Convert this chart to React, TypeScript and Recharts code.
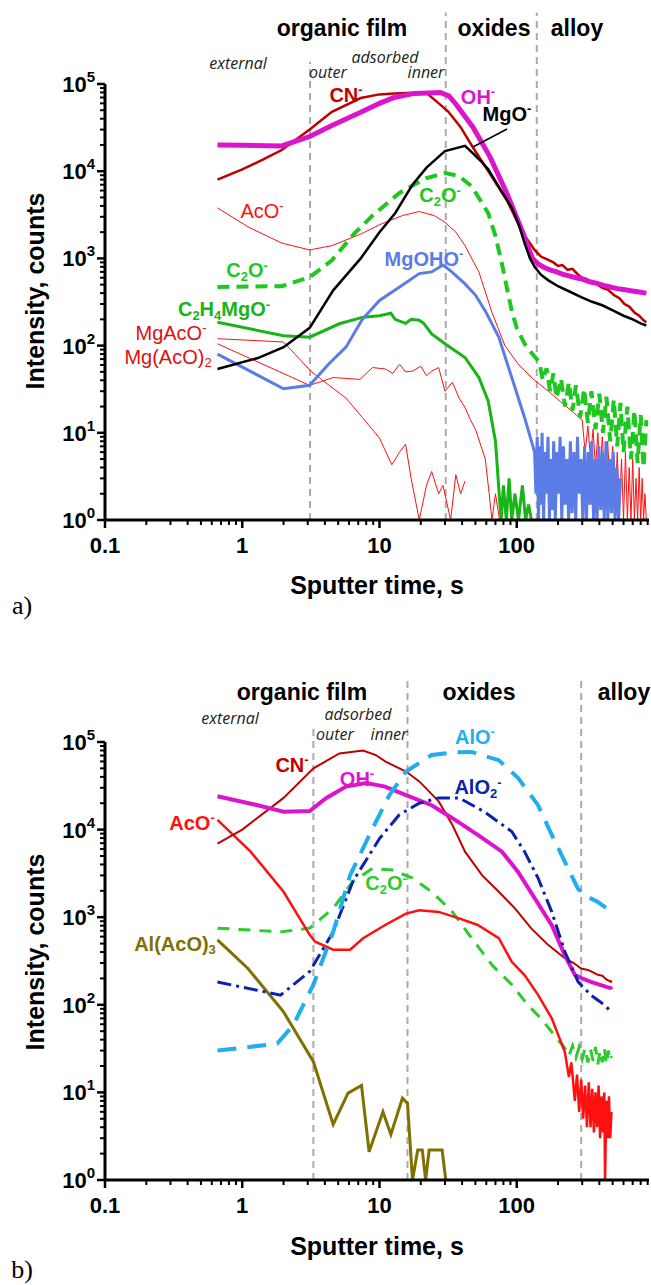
import React from 'react';
import { LineChart, Line, XAxis, YAxis, ReferenceLine } from 'recharts';

type Pt = [number, number];

// ---- panel a: sputter time (s) vs intensity (counts) ----
const cnA: Pt[] = [
  [0.66, 8000], [1, 10500], [1.4, 13500], [1.94, 17500], [3.1, 30000], [4.5, 48000], [7.3, 69000], [10, 76000],
  [12.8, 78000], [19.5, 80000], [22.4, 77000], [27.7, 58000], [31.8, 48000], [39, 32000], [48, 18700], [64, 9300],
  [85, 4600], [112, 1900], [135, 1250], [150, 1050], [170, 960], [185, 900], [200, 820], [215, 840], [235, 740],
  [255, 760], [280, 650], [300, 600], [325, 580], [350, 520], [380, 510], [420, 460], [460, 440], [510, 380],
  [560, 350], [610, 300], [660, 280], [720, 240], [780, 220], [840, 195], [880, 185],
];
const ohA: Pt[] = [
  [0.66, 20000], [1, 19800], [1.94, 19500], [3.1, 25000], [4.5, 33500], [7.3, 47500], [10, 60000], [12.8, 70000],
  [18, 78000], [27.7, 80000], [32, 73000], [36, 59000], [48, 32000], [64, 14500], [85, 5500], [112, 1900],
  [130, 1000], [145, 850], [160, 780], [175, 740], [195, 700], [215, 660], [240, 630], [270, 600], [300, 580],
  [340, 540], [380, 520], [430, 490], [480, 470], [540, 450], [600, 440], [680, 425], [760, 415], [880, 400],
];
const mgoA: Pt[] = [
  [0.66, 54], [1.3, 72], [2, 96], [3.1, 160], [4.6, 430], [7.3, 1000], [10, 2000], [13, 3300], [17.4, 7000],
  [22, 11000], [30, 17000], [42, 19500], [48, 16000], [55, 13000], [62, 10500], [77, 6000], [92, 3800],
  [104, 2400], [114, 1500], [125, 1000], [135, 800], [150, 650], [170, 560], [200, 480], [240, 420], [295, 360],
  [350, 320], [420, 290], [510, 250], [600, 220], [700, 200], [800, 180], [880, 170],
];
const acoA: Pt[] = [
  [0.66, 3800], [1.1, 2300], [1.94, 1500], [3.1, 1250], [4.5, 1400], [7.3, 1900], [10.4, 2500], [14.7, 3100],
  [19.5, 3450], [25, 3100], [30, 2600], [36, 2000], [42, 1400], [53, 700], [66, 240], [82, 100], [102, 62],
  [130, 42], [170, 30], [200, 24], [230, 20], [260, 17], [300, 14], [315, 6], [330, 12], [345, 5], [360, 11],
  [375, 4], [390, 10], [405, 3], [420, 9], [440, 2.5], [460, 8], [480, 2], [500, 7], [520, 1.5], [540, 6],
  [560, 1.2], [580, 5], [600, 1], [620, 6], [640, 1], [660, 4], [680, 1], [700, 5], [720, 1], [740, 3], [760, 1],
  [780, 4], [800, 1], [820, 3], [840, 1], [860, 2], [880, 1],
];
const c2oA: Pt[] = [
  [0.66, 470], [1.94, 480], [3.1, 610], [4.5, 950], [6.5, 1900], [8.9, 3100], [13.9, 5600], [21.7, 8300],
  [30, 9500], [38, 8800], [47, 6700], [62, 3300], [70, 1800], [78, 870], [85, 450], [92, 250], [100, 160],
  [114, 105], [130, 80], [146, 65], [155, 40], [165, 55], [175, 30], [185, 48], [195, 25], [210, 42], [225, 20],
  [240, 38], [255, 18], [270, 35], [290, 15], [310, 32], [330, 13], [350, 30], [375, 11], [400, 28], [425, 10],
  [450, 26], [480, 8], [510, 24], [540, 7], [570, 22], [600, 6], [640, 20], [680, 5], [720, 18], [760, 4.5],
  [800, 16], [840, 4], [880, 14],
];
const c2h4mgoA: Pt[] = [
  [0.66, 185], [2, 130], [3.1, 125], [5.1, 178], [7.6, 212], [10, 220], [12.1, 235], [13, 200], [15.5, 180],
  [17, 200], [19.5, 195], [21, 180], [24, 136], [30, 105], [42, 73], [53, 43], [62, 23], [70, 8], [74, 2.3],
  [77, 1], [80, 2.5], [84, 1], [88, 3], [92, 1], [97, 2], [103, 1], [110, 2.5], [116, 1], [122, 1.5], [128, 1],
];
const mgohoA: Pt[] = [
  [0.66, 80], [2, 32], [3.1, 35], [4.2, 60], [5.7, 96], [7.5, 200], [10, 330], [14, 470], [19.5, 670], [24, 700],
  [29, 840], [33, 720], [42, 510], [50, 380], [59, 250], [74, 125], [92, 43], [114, 15], [135, 6], [138, 2],
  [141, 9], [144, 1], [147, 7], [150, 1.5], [153, 10], [157, 1], [161, 6], [165, 2], [169, 9], [173, 1], [177, 5],
  [181, 1.3], [186, 8], [191, 1], [196, 6], [201, 2], [207, 9], [213, 1], [219, 7], [225, 1.5], [232, 5], [239, 1],
  [246, 8], [253, 1.2], [261, 6], [269, 1], [277, 9], [285, 2], [294, 5], [303, 1], [312, 7], [322, 1], [332, 6],
  [342, 1.5], [352, 8], [363, 1], [374, 5], [385, 1], [397, 7], [409, 1.3], [421, 6], [434, 1], [447, 8], [461, 1],
  [475, 5], [490, 1.2], [505, 6], [520, 1], [536, 4], [552, 1], [570, 3],
];
const mgacoA: Pt[] = [
  [0.66, 120], [2, 110], [3.2, 50], [4.3, 35], [5.7, 25], [7.5, 15], [10, 8.7], [12.3, 4.3], [14, 6], [15.5, 7.4],
  [17, 3], [19.5, 1], [22, 2.5], [24, 3.6], [27, 2], [29, 2.5], [33, 1], [36, 3.3], [39, 2], [42, 2.8],
];
const mgaco2A: Pt[] = [
  [0.66, 105], [3.1, 35], [4.6, 43], [7.2, 41], [8.9, 56], [11, 54], [12.5, 48], [14, 61], [15.5, 50], [17.4, 51],
  [20, 58], [22, 45], [24, 51], [27, 56], [30, 30], [34, 38], [38, 25], [42, 19.5], [46, 14], [50, 11], [55, 7],
  [59, 5], [63, 2], [66, 1], [70, 2], [75, 1],
];
const bordersA = [3.12, 30.4, 140];

// ---- panel b ----
const cnB: Pt[] = [
  [0.66, 6900], [1, 10000], [2, 23000], [3.3, 50000], [5.1, 74000], [7.6, 80000], [9.4, 71000], [11, 60000],
  [15.6, 46000], [19.5, 35500], [27, 21000], [34, 11300], [42, 5600], [56, 3000], [74, 1950], [97, 1260],
  [128, 740], [170, 480], [224, 340], [260, 300], [295, 260], [330, 250], [360, 235], [390, 220], [420, 215],
  [450, 195], [485, 183], [490, 190],
];
const ohB: Pt[] = [
  [0.66, 24000], [1.2, 19500], [2, 16000], [3.1, 16300], [4.1, 23000], [5.7, 31000], [8, 34000], [11, 31000],
  [15.6, 24700], [24, 19000], [34, 13500], [52, 8700], [78, 5600], [102, 3300], [135, 1650], [180, 810],
  [224, 370], [265, 220], [300, 200], [347, 183], [400, 170], [450, 160], [485, 155], [490, 150],
];
const aloB: Pt[] = [
  [0.66, 30], [1.8, 36], [2.36, 59], [3.3, 170], [4.6, 680], [6.1, 3000], [8.9, 10300], [11.8, 24700],
  [15.6, 46000], [24, 71000], [35, 76000], [47, 77000], [74, 62000], [102, 39000], [143, 19000], [180, 8700],
  [224, 4300], [280, 2100], [330, 1700], [388, 1500], [440, 1300], [485, 1170],
];
const alo2B: Pt[] = [
  [0.66, 182], [1.9, 129], [3.1, 240], [4.6, 680], [6.4, 2560], [10, 7900], [13.9, 14700], [19.5, 20000],
  [27, 23000], [38, 23000], [58, 16000], [92, 9500], [114, 5600], [143, 2800], [180, 1150], [224, 405],
  [280, 183], [347, 129], [400, 110], [450, 95], [485, 83],
];
const acoB: Pt[] = [
  [0.66, 12900], [1.15, 5600], [2, 1950], [3.1, 630], [3.4, 525], [4.6, 425], [6.1, 425], [7.6, 575], [11, 815],
  [15.6, 1100], [19.5, 1200], [27, 1150], [38, 970], [52, 815], [74, 575], [92, 310], [114, 218], [143, 130],
  [180, 70], [224, 29], [240, 15], [250, 22], [265, 8], [275, 16], [285, 6], [295, 14], [305, 5], [315, 12],
  [325, 4], [335, 13], [345, 4], [355, 11], [365, 3.5], [375, 10], [385, 4], [395, 12], [405, 3], [415, 9],
  [425, 3.5], [435, 10], [440, 1], [450, 8], [460, 3], [470, 9], [480, 3], [490, 6],
];
const c2oB: Pt[] = [
  [0.66, 750], [1.9, 680], [3.1, 750], [4.6, 1260], [6.4, 2560], [8.9, 3600], [12.4, 3450], [17.4, 2800],
  [24, 1950], [34, 1150], [47, 575], [66, 285], [92, 170], [120, 100], [150, 70], [188, 45], [224, 32], [240, 26],
  [255, 34], [270, 25], [285, 33], [300, 24], [315, 32], [330, 22], [345, 31], [360, 23], [375, 33], [390, 21],
  [405, 30], [420, 22], [435, 32], [450, 21], [465, 30], [480, 23], [490, 26],
];
const alacoB: Pt[] = [
  [0.66, 550], [1.1, 260], [2, 83], [3.3, 22.4], [4.6, 4.3], [5.9, 9.8], [7.4, 12], [8.4, 2.1], [10.6, 6],
  [12.1, 3.3], [14.7, 8.6], [16, 7.5], [17.4, 1], [19, 2.2], [20.5, 2.2], [21.7, 1], [23, 2.2], [28.6, 2.2],
  [30.4, 1],
];
const bordersB = [3.3, 16, 295];

// ---- axes ----
const xMajor = [0.1, 1, 10, 100];
const xTicks = [0.1, 0.2, 0.3, 0.4, 0.5, 0.6, 0.7, 0.8, 0.9, 1, 2, 3, 4, 5, 6, 7, 8, 9, 10, 20, 30, 40, 50, 60, 70, 80, 90,
  100, 200, 300, 400, 500, 600, 700, 800, 900];
const yTicks = [1, 2, 3, 4, 5, 6, 7, 8, 9, 10, 20, 30, 40, 50, 60, 70, 80, 90, 100, 200, 300, 400, 500, 600, 700, 800, 900,
  1000, 2000, 3000, 4000, 5000, 6000, 7000, 8000, 9000, 10000, 20000, 30000, 40000, 50000, 60000, 70000, 80000, 90000,
  100000];

const FONT = '"Liberation Sans", Arial, sans-serif';

const rows = (pts: Pt[]) => pts.map(([t, v]) => ({ t, v }));

const XTick = (props: any) => {
  const { x, y, payload } = props;
  const major = xMajor.includes(payload.value);
  return (
    <g>
      <line x1={x} y1={y} x2={x} y2={y + (major ? 8 : 5)} stroke="#000" strokeWidth={major ? 2.5 : 2} />
      {major && (
        <text x={x} y={y + 33} textAnchor="middle" fontSize={22} fontWeight="bold" fontFamily={FONT} fill="#000">
          {payload.value}
        </text>
      )}
    </g>
  );
};

const YTick = (props: any) => {
  const { x, y, payload } = props;
  const lg = Math.log10(payload.value);
  const exp = Math.round(lg);
  const major = Math.abs(lg - exp) < 1e-6;
  return (
    <g>
      <line x1={x} y1={y} x2={x - (major ? 8 : 5)} y2={y} stroke="#000" strokeWidth={major ? 2.5 : 2} />
      {major && (
        <text x={x - 10} y={y + 8} textAnchor="end" fontSize={22} fontWeight="bold" fontFamily={FONT} fill="#000">
          10<tspan dy={-10} fontSize={15}>{exp}</tspan>
        </text>
      )}
    </g>
  );
};

interface SeriesDef {
  pts: Pt[];
  color: string;
  width: number;
  dash?: string;
}

interface PanelProps {
  height: number;
  margin: { top: number; right: number; bottom: number; left: number };
  series: SeriesDef[];
  borders: number[];
  borderTops: number[];
}

function Panel({ height, margin, series, borders, borderTops }: PanelProps) {
  return (
    <LineChart width={651} height={height} margin={margin}>
      <XAxis
        dataKey="t"
        type="number"
        scale="log"
        domain={[0.1, 920]}
        allowDataOverflow
        ticks={xTicks}
        interval={0}
        tickSize={0}
        tickMargin={0}
        tick={<XTick />}
        axisLine={{ stroke: '#000', strokeWidth: 3 }}
        height={30}
      />
      <YAxis
        dataKey="v"
        type="number"
        scale="log"
        domain={[1, 100000]}
        allowDataOverflow
        ticks={yTicks}
        interval={0}
        tickSize={0}
        tickMargin={0}
        tick={<YTick />}
        axisLine={{ stroke: '#000', strokeWidth: 3 }}
        width={60}
      />
      {borders.map((b, i) => (
        <ReferenceLine
          key={b}
          ifOverflow="visible"
          segment={[{ x: b, y: 1 }, { x: b, y: borderTops[i] }]}
          stroke="#ababab"
          strokeWidth={2}
          strokeDasharray="7 5"
        />
      ))}
      {series.map((s, i) => (
        <Line
          key={i}
          data={rows(s.pts)}
          dataKey="v"
          type="linear"
          stroke={s.color}
          strokeWidth={s.width}
          strokeDasharray={s.dash}
          dot={false}
          activeDot={false}
          isAnimationActive={false}
        />
      ))}
    </LineChart>
  );
}

const Tag = ({ x, y, color = '#000', size = 20, bold = true, italic = false, family = FONT, rotate = false, children }: any) => (
  <div
    style={{
      position: 'absolute',
      left: x,
      top: y,
      transform: `translate(-50%, -50%)${rotate ? ' rotate(-90deg)' : ''}`,
      color,
      fontSize: size,
      fontWeight: bold ? 'bold' : 'normal',
      fontStyle: italic ? 'italic' : 'normal',
      fontFamily: family,
      whiteSpace: 'nowrap',
      lineHeight: 1,
    }}
  >
    {children}
  </div>
);

const Sup = ({ children }: any) => <sup style={{ fontSize: '0.65em', verticalAlign: '0.6em' }}>{children}</sup>;
const Sub = ({ children }: any) => <sub style={{ fontSize: '0.65em', verticalAlign: '-0.3em' }}>{children}</sub>;

const IT = '"Open Sans", sans-serif';

export default function App() {
  const seriesA: SeriesDef[] = [
    { pts: acoA, color: '#ff1010', width: 1 },
    { pts: mgacoA, color: '#ff1010', width: 1 },
    { pts: mgaco2A, color: '#ff1010', width: 1 },
    { pts: c2h4mgoA, color: '#18b418', width: 3 },
    { pts: mgohoA, color: '#5b7be6', width: 3 },
    { pts: c2oA, color: '#1ec81e', width: 4, dash: '12 7' },
    { pts: cnA, color: '#c00000', width: 2.5 },
    { pts: ohA, color: '#dc14cc', width: 5 },
    { pts: mgoA, color: '#000000', width: 2.5 },
  ];
  const seriesB: SeriesDef[] = [
    { pts: alacoB, color: '#807000', width: 3 },
    { pts: c2oB, color: '#2ccc2c', width: 3, dash: '12 9' },
    { pts: acoB, color: '#ff1010', width: 2.5 },
    { pts: cnB, color: '#c00000', width: 2 },
    { pts: ohB, color: '#dc14cc', width: 4 },
    { pts: alo2B, color: '#0c22aa', width: 3, dash: '14 5 3 5' },
    { pts: aloB, color: '#22aeee', width: 4, dash: '19 11' },
  ];

  return (
    <div style={{ position: 'absolute', left: 0, top: 0, width: 651, height: 1285, background: '#fff', overflow: 'hidden' }}>
      <div style={{ position: 'absolute', left: 0, top: 0 }}>
        <Panel
          height={640}
          margin={{ top: 84, right: 2, bottom: 90, left: 45 }}
          series={seriesA}
          borders={bordersA}
          borderTops={[180000, 660000, 660000]}
        />
      </div>
      <div style={{ position: 'absolute', left: 0, top: 640 }}>
        <Panel
          height={645}
          margin={{ top: 102, right: 2, bottom: 75, left: 45 }}
          series={seriesB}
          borders={bordersB}
          borderTops={[157000, 540000, 540000]}
        />
      </div>

      {/* panel a annotations */}
      <Tag x={342} y={28} size={23}>organic film</Tag>
      <Tag x={494} y={28} size={23}>oxides</Tag>
      <Tag x={577} y={28} size={23}>alloy</Tag>
      <Tag x={238} y={63} size={16} bold={false} italic family={IT} color="#222">external</Tag>
      <Tag x={385} y={57} size={16} bold={false} italic family={IT} color="#222">adsorbed</Tag>
      <Tag x={328} y={72} size={16} bold={false} italic family={IT} color="#222">outer</Tag>
      <Tag x={426} y={72} size={16} bold={false} italic family={IT} color="#222">inner</Tag>
      <Tag x={346} y={94} color="#c00000">CN<Sup>-</Sup></Tag>
      <Tag x={478} y={96} color="#dc14cc">OH<Sup>-</Sup></Tag>
      <Tag x={507} y={113} color="#000">MgO<Sup>-</Sup></Tag>
      <Tag x={262} y={210} color="#ff1010" bold={false}>AcO<Sup>-</Sup></Tag>
      <Tag x={440} y={196} color="#1ec81e">C<Sub>2</Sub>O<Sup>-</Sup></Tag>
      <Tag x={424} y={258} color="#5b7be6">MgOHO<Sup>-</Sup></Tag>
      <Tag x={247} y={271} color="#1ec81e">C<Sub>2</Sub>O<Sup>-</Sup></Tag>
      <Tag x={224} y={310} color="#18b418">C<Sub>2</Sub>H<Sub>4</Sub>MgO<Sup>-</Sup></Tag>
      <Tag x={171} y={332} color="#e01010" bold={false}>MgAcO<Sup>-</Sup></Tag>
      <Tag x={168} y={358} color="#e01010" bold={false}>Mg(AcO)<Sub>2</Sub></Tag>
      <Tag x={35} y={291} size={25} rotate>Intensity, counts</Tag>
      <Tag x={377} y={585} size={25}>Sputter time, s</Tag>
      <Tag x={22} y={606} size={26} bold={false} family="'Liberation Serif', serif">a)</Tag>
      <svg style={{ position: 'absolute', left: 0, top: 0 }} width={651} height={200}>
        <line x1={507} y1={129} x2={473} y2={147} stroke="#000" strokeWidth={1.5} />
      </svg>

      {/* panel b annotations */}
      <Tag x={302} y={692} size={23}>organic film</Tag>
      <Tag x={479} y={692} size={23}>oxides</Tag>
      <Tag x={624} y={692} size={23}>alloy</Tag>
      <Tag x={230} y={718} size={16} bold={false} italic family={IT} color="#222">external</Tag>
      <Tag x={358} y={714} size={16} bold={false} italic family={IT} color="#222">adsorbed</Tag>
      <Tag x={335} y={734} size={16} bold={false} italic family={IT} color="#222">outer</Tag>
      <Tag x={389} y={734} size={16} bold={false} italic family={IT} color="#222">inner</Tag>
      <Tag x={475} y={736} color="#22aeee">AlO<Sup>-</Sup></Tag>
      <Tag x={292} y={764} color="#c00000">CN<Sup>-</Sup></Tag>
      <Tag x={357} y={778} color="#dc14cc">OH<Sup>-</Sup></Tag>
      <Tag x={478} y={788} color="#0c22aa">AlO<Sub>2</Sub><Sup>-</Sup></Tag>
      <Tag x={192} y={822} color="#ff1010">AcO<Sup>-</Sup></Tag>
      <Tag x={386} y={884} color="#2ccc2c">C<Sub>2</Sub>O<Sup>-</Sup></Tag>
      <Tag x={175} y={945} color="#807000">Al(AcO)<Sub>3</Sub></Tag>
      <Tag x={35} y={952} size={25} rotate>Intensity, counts</Tag>
      <Tag x={377} y={1246} size={25}>Sputter time, s</Tag>
      <Tag x={22} y={1270} size={26} bold={false} family="'Liberation Serif', serif">b)</Tag>
    </div>
  );
}
